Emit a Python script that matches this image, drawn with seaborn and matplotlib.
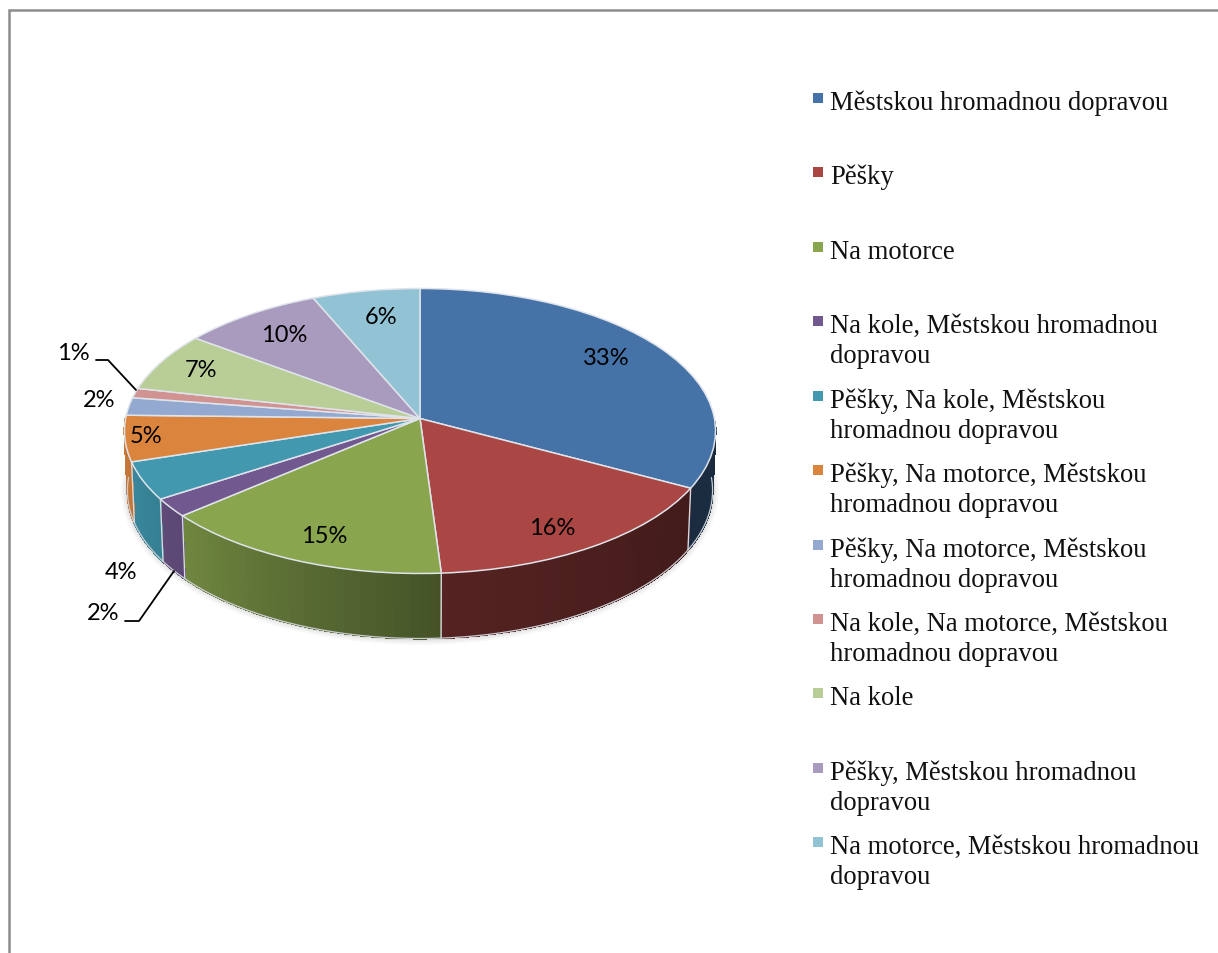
import numpy as np
import matplotlib
matplotlib.use('Agg')
import matplotlib.pyplot as plt
from matplotlib.transforms import Transform
import seaborn as sns

# share of each answer
values = [32.8, 16.1, 14.8, 2.1, 4.3, 5.2, 2.0, 1.1, 6.7, 8.4, 6.4]
percent_labels = ['33%', '16%', '15%', '2%', '4%', '5%', '2%', '1%', '7%', '10%', '6%']
legend_labels = [
    'Městskou hromadnou dopravou',
    'Pěšky',
    'Na motorce',
    'Na kole, Městskou hromadnou\ndopravou',
    'Pěšky, Na kole, Městskou\nhromadnou dopravou',
    'Pěšky, Na motorce, Městskou\nhromadnou dopravou',
    'Pěšky, Na motorce, Městskou\nhromadnou dopravou',
    'Na kole, Na motorce, Městskou\nhromadnou dopravou',
    'Na kole',
    'Pěšky, Městskou hromadnou\ndopravou',
    'Na motorce, Městskou hromadnou\ndopravou',
]
slice_colors = ['#4572a7', '#aa4643', '#89a54e', '#71588f', '#4198af', '#db843d',
                '#93a9cf', '#d19392', '#b9cd96', '#a99bbd', '#92c3d4']

# label centres in pixels
label_x = [606, 552, 324, 103, 121, 146, 99, 73, 201, 284, 381]
label_y = [359, 529, 537, 614, 573, 437, 401, 354, 371, 336, 318]

sns.set_theme(style='white')
plt.rcParams['font.family'] = ['Lato', 'DejaVu Sans']
palette = sns.color_palette(slice_colors)

# perspective of the tilted pie
CX, CY = 420, 419.5
SX, SY, K = 294.4, 141.4, 0.0877


def project(x, y):
    d = 1 + K * np.asarray(y)
    return CX + SX * np.asarray(x) / d, CY - SY * np.asarray(y) / d


def lower_rim(x, y):
    px, py = project(x, y)
    return CX + (px - CX) * 0.99, py + 59 - 6 * np.asarray(y)


class Tilt(Transform):
    input_dims = 2
    output_dims = 2

    def transform_non_affine(self, values):
        values = np.asarray(values)
        px, py = project(values[:, 0], values[:, 1])
        return np.column_stack([px, py])


fig = plt.figure(figsize=(12.18, 9.54), dpi=100)
ax = fig.add_axes([0, 0, 1, 1])

wedges, _ = ax.pie(values, colors=palette, startangle=90, counterclock=False,
                   wedgeprops=dict(edgecolor='#dfe3ea', linewidth=1.1, zorder=3))
tilt = Tilt()
for w in wedges:
    w.set_transform(tilt + ax.transData)

# soft shadow under the front half of the lower rim
t = np.radians(np.linspace(180, 360, 181))
sx, sy = lower_rim(np.cos(t), np.sin(t))
for lw, a in [(9, 0.04), (6, 0.06), (3, 0.10)]:
    ax.plot(sx, sy, color='#555555', lw=lw, alpha=a, zorder=0.5)

# side wall, darker towards the lower right; the back half is hidden
for w, col in zip(wedges, palette):
    angles = np.arange(w.theta1, w.theta2, 1.5)
    angles = np.append(angles, w.theta2)
    for a0, a1 in zip(angles[:-1], angles[1:]):
        rad = np.radians([a0, a1])
        x, y = np.cos(rad), np.sin(rad)
        if y.max() > 0:
            continue
        tx, ty = project(x, y)
        bx, by = lower_rim(x, y)
        clock = (90 - (a0 + a1) / 2) % 360
        shade = np.interp(clock, [90, 120, 176, 228, 250, 270], [0.38, 0.39, 0.50, 0.81, 0.88, 0.93])
        c = tuple(v * shade for v in col)
        ax.fill([tx[0], tx[1], bx[1], bx[0]], [ty[0], ty[1], by[1], by[0]],
                facecolor=c, edgecolor=c, lw=0.8, antialiased=False, zorder=1)
    rad = np.radians(w.theta1)
    if np.sin(rad) < 0:
        tx, ty = project(np.cos(rad), np.sin(rad))
        bx, by = lower_rim(np.cos(rad), np.sin(rad))
        ax.plot([tx, bx], [ty, by], color='#d5d8dd', lw=1, zorder=1.5)

ax.plot(sx, sy, color='#c9ccd2', lw=0.9, zorder=1.4)

# percent labels
for txt, x, y in zip(percent_labels, label_x, label_y):
    ax.text(x, y, txt, fontsize=17, color='black', ha='center', va='center', zorder=5)

# leader lines for the thin slices
ax.plot([96, 108, 136], [361, 361, 391], color='black', lw=1.3, zorder=4)
ax.plot([125, 139, 174], [622, 622, 572], color='black', lw=1.3, zorder=4)

# legend, one row every 74.5 px
for i, (txt, col) in enumerate(zip(legend_labels, palette)):
    row = 99 + 74.43 * i
    ax.scatter([818], [row], marker='s', s=62, color=[col], linewidths=0, zorder=4)
    for j, line in enumerate(txt.split('\n')):
        ax.text(830, row + 11 + 30 * j, line, family='Liberation Serif', fontsize=19.2,
                color='#111111', ha='left', va='baseline')

# chart frame, cut by the picture on the right and at the bottom
ax.plot([9, 9, 1218], [954, 11, 11], color='#8c8c8c', lw=1.8, solid_joinstyle='miter', zorder=6)

ax.set_aspect('auto')
ax.set_xlim(0, 1218)
ax.set_ylim(954, 0)
ax.axis('off')

fig.savefig('out.png', dpi=100, facecolor='white')
